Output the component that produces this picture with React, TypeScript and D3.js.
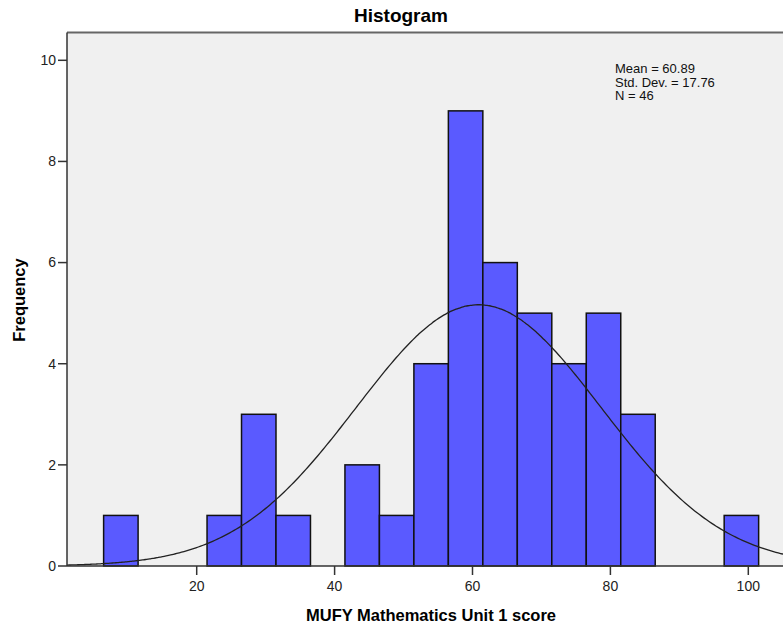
import React from "react";
import * as d3 from "d3";

// bin lower edges (width 5) and counts
const binStarts = [6.5, 11.5, 16.5, 21.5, 26.5, 31.5, 36.5, 41.5, 46.5, 51.5, 56.5, 61.5, 66.5, 71.5, 76.5, 81.5, 86.5, 91.5, 96.5];
const binCounts = [1, 0, 0, 1, 3, 1, 0, 2, 1, 4, 9, 6, 5, 4, 5, 3, 0, 0, 1];
const binWidth = 5;
const xTickValues = [20, 40, 60, 80, 100];
const yTickValues = [0, 2, 4, 6, 8, 10];
const mean = 60.89;
const stdDev = 17.76;
const n = 46;
const statsLines = ["Mean = 60.89", "Std. Dev. = 17.76", "N = 46"];

export default function App() {
  const width = 783,
    height = 628;
  const left = 67,
    right = 783,
    top = 32.5,
    bottom = 566;

  const xScale = d3.scaleLinear().domain([0, 100]).range([58.8, 748.3]);
  const yScale = d3.scaleLinear().domain([0, 10]).range([bottom, 60.3]);
  const xMin = xScale.invert(left),
    xMax = xScale.invert(right);

  // fitted normal curve, scaled to counts
  const curvePts = d3.range(0, 301).map((i) => {
    const x = xMin + ((xMax - xMin) * i) / 300;
    const z = (x - mean) / stdDev;
    const y = ((n * binWidth) / (stdDev * Math.sqrt(2 * Math.PI))) * Math.exp(-0.5 * z * z);
    return [x, y] as [number, number];
  });
  const line = d3
    .line<[number, number]>()
    .x((d) => xScale(d[0]))
    .y((d) => yScale(d[1]))
    .curve(d3.curveBasis);

  const font = "Arial, 'Liberation Sans', sans-serif";

  return (
    <svg
      width={width}
      height={height}
      style={{ position: "absolute", left: 0, top: 0, background: "#fff" }}
      fontFamily={font}
    >
      {/* title */}
      <text x={401} y={22} textAnchor="middle" fontSize="19" fontWeight="bold">
        Histogram
      </text>

      {/* plot area */}
      <rect x={left} y={top} width={right - left} height={bottom - top} fill="#f0f0f0" />
      <line x1={left} x2={right} y1={top} y2={top} stroke="#666" strokeWidth="2" />

      {/* bars */}
      <g>
        {binStarts.map((s, i) =>
          binCounts[i] > 0 ? (
            <rect
              key={i}
              x={xScale(s)}
              y={yScale(binCounts[i])}
              width={xScale(s + binWidth) - xScale(s)}
              height={yScale(0) - yScale(binCounts[i])}
              fill="#5a5aff"
              stroke="#111"
              strokeWidth="1.5"
            />
          ) : null
        )}
      </g>

      {/* normal curve */}
      <path d={line(curvePts) || ""} fill="none" stroke="#222" strokeWidth="1.3" />

      {/* axes */}
      <line x1={left} x2={left} y1={top} y2={bottom} stroke="#333" strokeWidth="1.5" />
      <line x1={left} x2={right} y1={bottom} y2={bottom} stroke="#333" strokeWidth="1.5" />

      {yTickValues.map((t) => (
        <g key={t}>
          <line x1={left - 9} x2={left} y1={yScale(t)} y2={yScale(t)} stroke="#333" strokeWidth="1.5" />
          <text x={left - 11} y={yScale(t)} dy="0.35em" textAnchor="end" fontSize="14" fill="#222">
            {t}
          </text>
        </g>
      ))}
      {xTickValues.map((t) => (
        <g key={t}>
          <line x1={xScale(t)} x2={xScale(t)} y1={bottom} y2={bottom + 9} stroke="#333" strokeWidth="1.5" />
          <text x={xScale(t)} y={591} textAnchor="middle" fontSize="14" fill="#222">
            {t}
          </text>
        </g>
      ))}

      {/* axis titles */}
      <text x={431} y={621} textAnchor="middle" fontSize="16.5" fontWeight="bold">
        MUFY Mathematics Unit 1 score
      </text>
      <text
        transform="translate(25,300) rotate(-90)"
        textAnchor="middle"
        fontSize="16.5"
        fontWeight="bold"
      >
        Frequency
      </text>

      {/* stats */}
      {statsLines.map((s, i) => (
        <text key={s} x={615} y={73 + i * 13.7} fontSize="13" fill="#111">
          {s}
        </text>
      ))}
    </svg>
  );
}
